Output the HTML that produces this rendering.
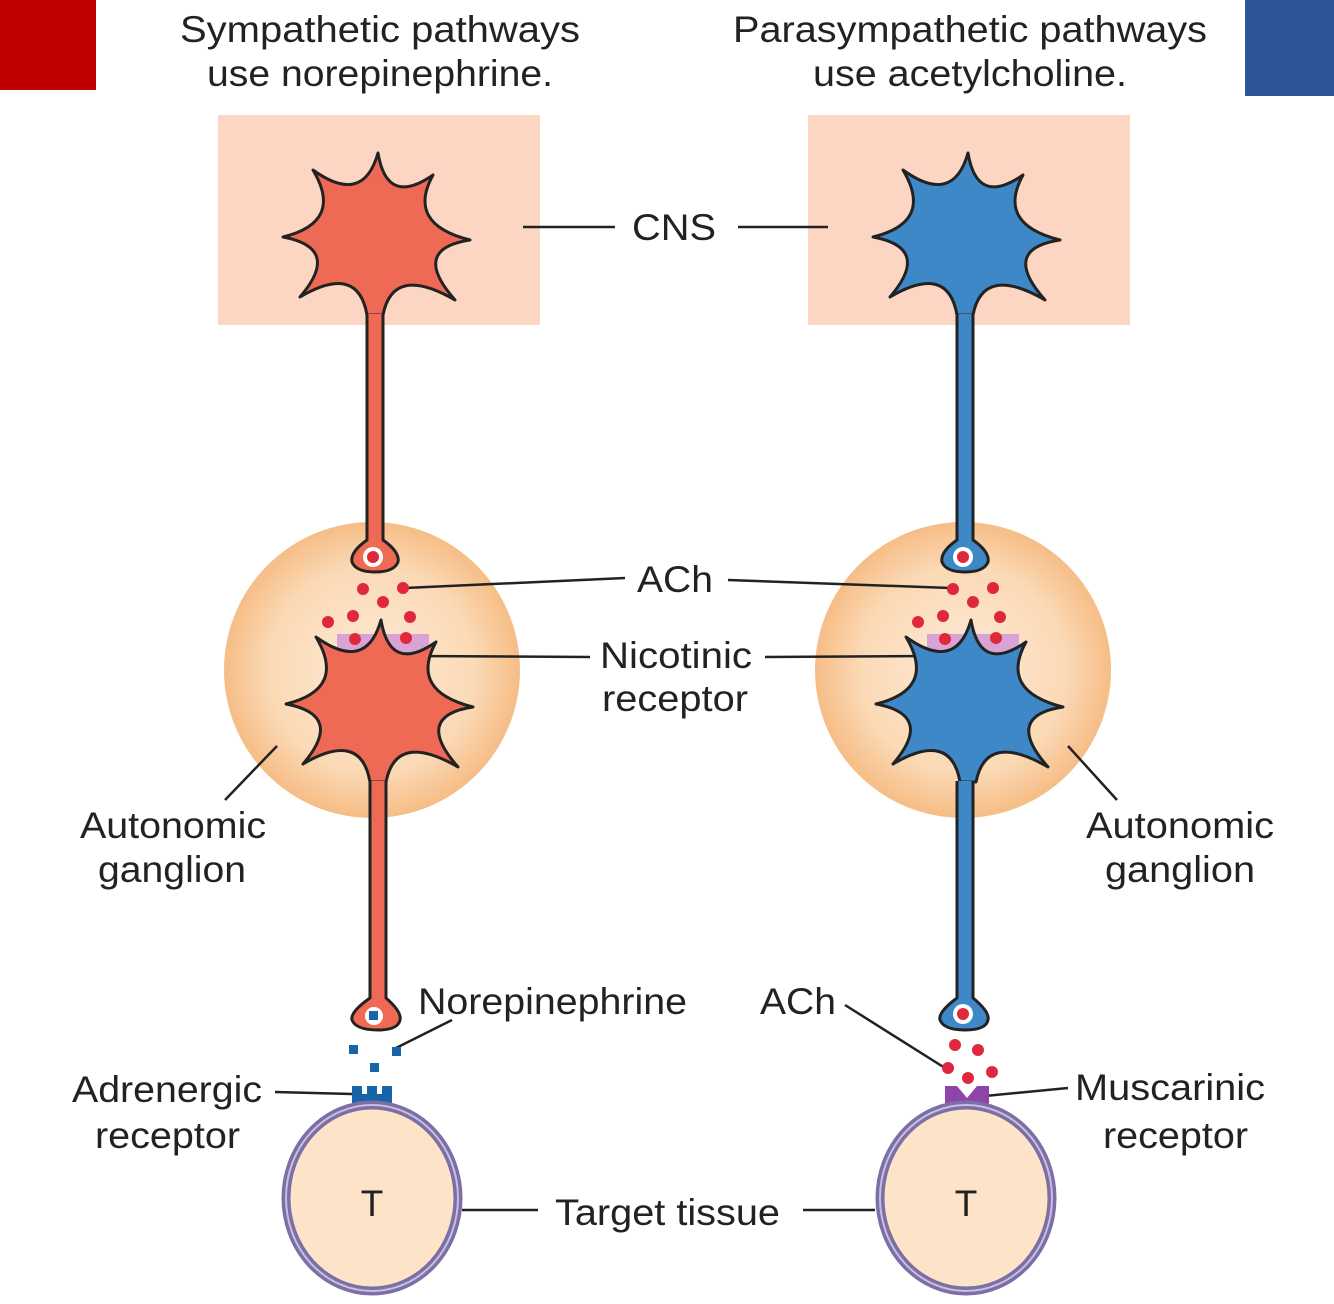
<!DOCTYPE html>
<html><head><meta charset="utf-8"><style>
html,body{margin:0;padding:0;background:#fff}
svg{display:block}
text{font-family:"Liberation Sans",sans-serif;font-size:37px;fill:#222}
</style></head><body>
<svg width="1334" height="1304" viewBox="0 0 1334 1304" xmlns="http://www.w3.org/2000/svg">
<defs>
<radialGradient id="g" cx="50%" cy="50%" r="50%">
<stop offset="0" stop-color="#fdebd9"/><stop offset="0.7" stop-color="#fbd9b5"/><stop offset="1" stop-color="#f6bd86"/>
</radialGradient>
<path id="star" d="M-62,-65 Q-12,-29 3,-82 Q12,-28 58,-60 Q31,-11 95,5 Q35,14 80,65 Q18,29 8,80 L-8,80 Q-17,28 -75,62 Q-33,13 -92,2 Q-31,-13 -62,-65 Z"/>
</defs>
<rect x="0" y="0" width="96" height="90" fill="#c00000"/>
<rect x="1245" y="0" width="89" height="96" fill="#2e5597"/>
<text x="180" y="42" textLength="400" lengthAdjust="spacingAndGlyphs">Sympathetic pathways</text>
<text x="207" y="86" textLength="346" lengthAdjust="spacingAndGlyphs">use norepinephrine.</text>
<text x="733" y="42" textLength="474" lengthAdjust="spacingAndGlyphs">Parasympathetic pathways</text>
<text x="813" y="86" textLength="314" lengthAdjust="spacingAndGlyphs">use acetylcholine.</text>
<rect x="218" y="115" width="322" height="210" fill="#fcd6c3"/>
<rect x="808" y="115" width="322" height="210" fill="#fcd6c3"/>
<circle cx="372" cy="670" r="148" fill="url(#g)"/>
<circle cx="963" cy="670" r="148" fill="url(#g)"/>
<g stroke="#222" stroke-width="2.5" fill="none">
<line x1="523" y1="227" x2="615" y2="227"/><line x1="738" y1="227" x2="828" y2="227"/>
<line x1="405" y1="588" x2="625" y2="578"/><line x1="728" y1="580" x2="950" y2="588"/>
<line x1="412" y1="656" x2="590" y2="657"/><line x1="765" y1="657" x2="935" y2="656"/>
<line x1="225" y1="800" x2="277" y2="746"/><line x1="1117" y1="800" x2="1068" y2="746"/>
<line x1="396" y1="1048" x2="452" y2="1020"/><line x1="845" y1="1005" x2="945" y2="1068"/>
<line x1="275" y1="1092" x2="352" y2="1094"/><line x1="985" y1="1096" x2="1068" y2="1088"/>
<line x1="462" y1="1210" x2="538" y2="1210"/><line x1="803" y1="1210" x2="875" y2="1210"/>
</g>
<rect x="337" y="634" width="92" height="36" fill="#d9a3d6"/>
<rect x="927" y="634" width="92" height="36" fill="#d9a3d6"/>
<g fill="#ef6a55" stroke="#222" stroke-width="3" stroke-linejoin="round">
<use href="#star" transform="translate(375,235)"/>
<path d="M367,314 L367,540 Q350,552 352,562 Q356,572 375,572 Q394,572 398,562 Q400,552 383,540 L383,314 Z" stroke="none"/>
<path d="M367,314 L367,540 Q350,552 352,562 Q356,572 375,572 Q394,572 398,562 Q400,552 383,540 L383,314" fill="none"/>
<use href="#star" transform="translate(378,702)"/>
<path d="M370,781 L370,998 Q350,1012 352,1020 Q356,1030 378,1030 Q398,1030 400,1020 Q402,1012 386,998 L386,781 Z" stroke="none"/>
<path d="M370,781 L370,998 Q350,1012 352,1020 Q356,1030 378,1030 Q398,1030 400,1020 Q402,1012 386,998 L386,781" fill="none"/>
</g>
<g fill="#3f88c8" stroke="#222" stroke-width="3" stroke-linejoin="round">
<use href="#star" transform="translate(965,235)"/>
<path d="M957,314 L957,540 Q940,552 942,562 Q946,572 965,572 Q984,572 988,562 Q990,552 973,540 L973,314 Z" stroke="none"/>
<path d="M957,314 L957,540 Q940,552 942,562 Q946,572 965,572 Q984,572 988,562 Q990,552 973,540 L973,314" fill="none"/>
<use href="#star" transform="translate(968,702)"/>
<path d="M957,781 L957,998 Q938,1012 940,1020 Q944,1030 965,1030 Q986,1030 988,1020 Q990,1012 973,998 L973,781 Z" stroke="none"/>
<path d="M957,781 L957,998 Q938,1012 940,1020 Q944,1030 965,1030 Q986,1030 988,1020 Q990,1012 973,998 L973,781" fill="none"/>
</g>
<g fill="#fff"><circle cx="373" cy="557" r="10"/><circle cx="963" cy="557" r="10"/><circle cx="963" cy="1014" r="10"/><circle cx="374" cy="1016" r="9"/></g>
<g fill="#e0283c">
<circle cx="373" cy="557" r="6"/><circle cx="963" cy="557" r="6"/><circle cx="963" cy="1014" r="6"/>
<circle cx="363" cy="589" r="6"/><circle cx="403" cy="588" r="6"/><circle cx="383" cy="602" r="6"/><circle cx="328" cy="622" r="6"/><circle cx="353" cy="616" r="6"/><circle cx="410" cy="617" r="6"/><circle cx="355" cy="639" r="6"/><circle cx="406" cy="638" r="6"/>
<circle cx="953" cy="589" r="6"/><circle cx="993" cy="588" r="6"/><circle cx="973" cy="602" r="6"/><circle cx="918" cy="622" r="6"/><circle cx="943" cy="616" r="6"/><circle cx="1000" cy="617" r="6"/><circle cx="945" cy="639" r="6"/><circle cx="996" cy="638" r="6"/>
<circle cx="955" cy="1045" r="6"/><circle cx="978" cy="1050" r="6"/><circle cx="948" cy="1068" r="6"/><circle cx="968" cy="1078" r="6"/><circle cx="992" cy="1072" r="6"/>
</g>
<g fill="#1764a8">
<rect x="369" y="1011" width="9" height="9"/><rect x="349" y="1045" width="9" height="9"/><rect x="392" y="1047" width="9" height="9"/><rect x="370" y="1063" width="9" height="9"/>
<path d="M352,1086 h10 v8 h5 v-8 h10 v8 h5 v-8 h10 v20 h-40 Z"/>
</g>
<path d="M945,1086 h12 l10,12 l10,-12 h12 v20 h-44 Z" fill="#8e44a8"/>
<g stroke="#7b6fa6" stroke-width="9" fill="#fde4c8">
<ellipse cx="372" cy="1198" rx="86" ry="93"/>
<ellipse cx="966" cy="1198" rx="86" ry="93"/>
</g>
<g stroke="#c9bedf" stroke-width="2" fill="none">
<ellipse cx="372" cy="1198" rx="86" ry="93"/>
<ellipse cx="966" cy="1198" rx="86" ry="93"/>
</g>
<text x="372" y="1216" text-anchor="middle" font-size="44">T</text>
<text x="966" y="1216" text-anchor="middle" font-size="44">T</text>
<text x="632" y="240" textLength="84" lengthAdjust="spacingAndGlyphs">CNS</text>
<text x="637" y="592" textLength="76" lengthAdjust="spacingAndGlyphs">ACh</text>
<text x="600" y="668" textLength="152" lengthAdjust="spacingAndGlyphs">Nicotinic</text>
<text x="602" y="711" textLength="146" lengthAdjust="spacingAndGlyphs">receptor</text>
<text x="80" y="838" textLength="186" lengthAdjust="spacingAndGlyphs">Autonomic</text>
<text x="98" y="882" textLength="148" lengthAdjust="spacingAndGlyphs">ganglion</text>
<text x="1086" y="838" textLength="188" lengthAdjust="spacingAndGlyphs">Autonomic</text>
<text x="1105" y="882" textLength="150" lengthAdjust="spacingAndGlyphs">ganglion</text>
<text x="418" y="1014" textLength="269" lengthAdjust="spacingAndGlyphs">Norepinephrine</text>
<text x="760" y="1014" textLength="76" lengthAdjust="spacingAndGlyphs">ACh</text>
<text x="72" y="1102" textLength="190" lengthAdjust="spacingAndGlyphs">Adrenergic</text>
<text x="95" y="1148" textLength="145" lengthAdjust="spacingAndGlyphs">receptor</text>
<text x="1075" y="1100" textLength="190" lengthAdjust="spacingAndGlyphs">Muscarinic</text>
<text x="1103" y="1148" textLength="145" lengthAdjust="spacingAndGlyphs">receptor</text>
<text x="555" y="1225" textLength="225" lengthAdjust="spacingAndGlyphs">Target tissue</text>
</svg>
</body></html>
